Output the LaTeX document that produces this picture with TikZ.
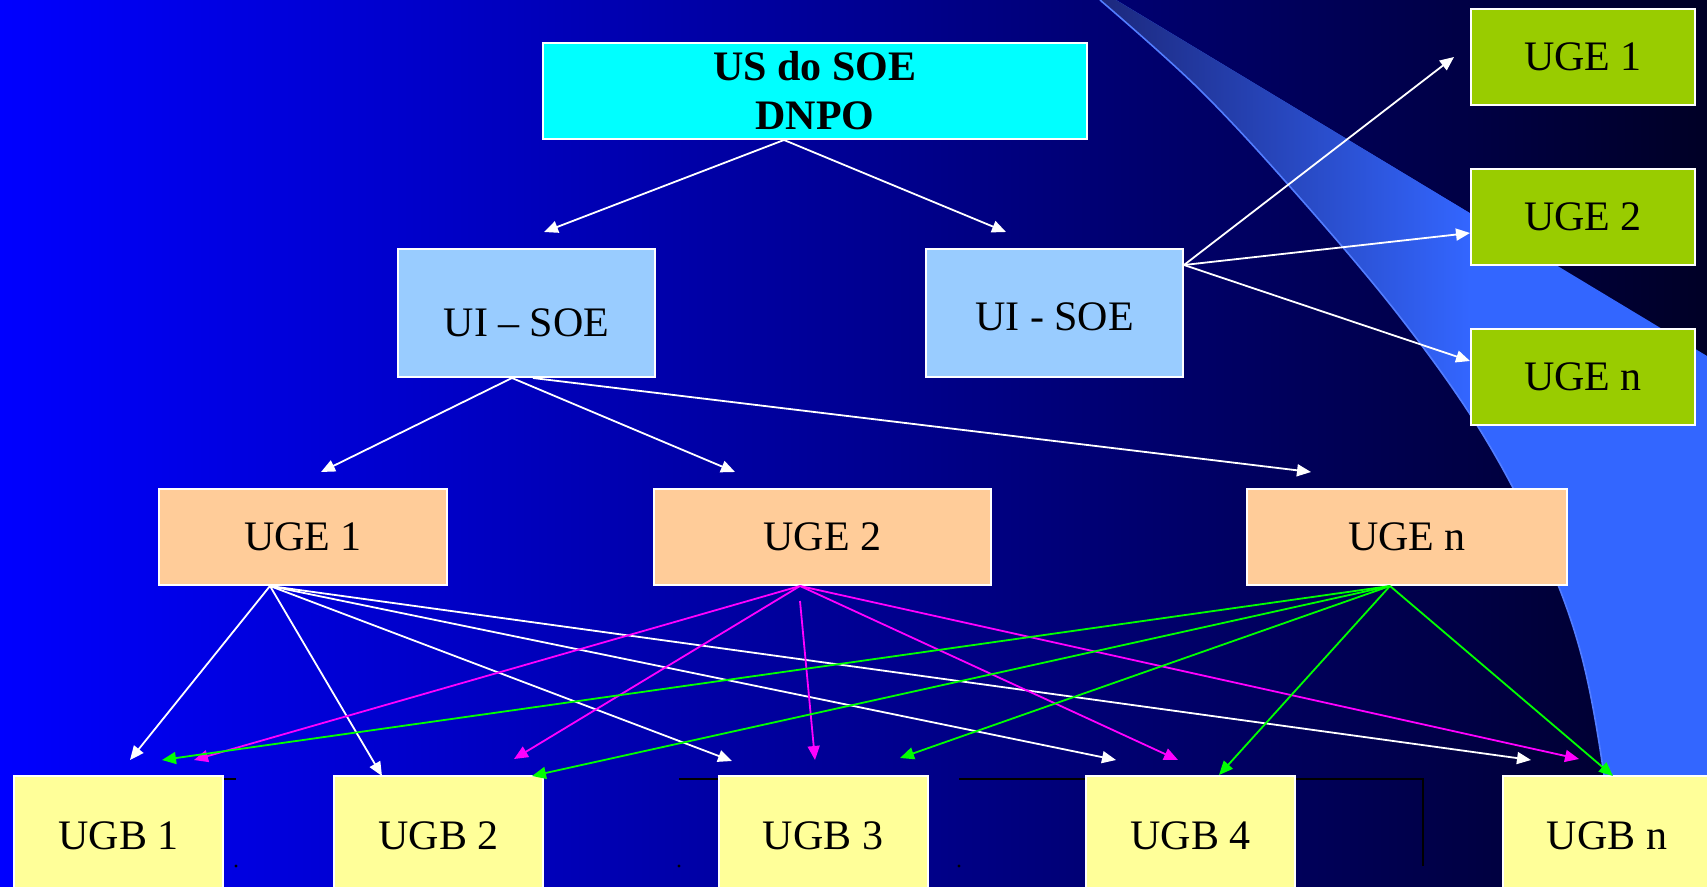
\documentclass[tikz,border=0pt]{standalone}
\usepackage{fontspec}
\setmainfont{Liberation Serif}
\usetikzlibrary{arrows.meta}
\definecolor{bgblue}{RGB}{0,0,255}
\definecolor{bgmid}{RGB}{0,0,176}
\definecolor{bgdark}{RGB}{0,0,38}
\definecolor{swoosh}{RGB}{51,102,255}
\definecolor{swooshtop}{RGB}{28,40,125}
\definecolor{soecyan}{RGB}{0,255,255}
\definecolor{uiblue}{RGB}{153,204,255}
\definecolor{ugegreen}{RGB}{153,204,0}
\definecolor{ugeorange}{RGB}{255,204,153}
\definecolor{ugbyellow}{RGB}{255,255,153}
\definecolor{linkpink}{RGB}{255,0,255}
\definecolor{linkgreen}{RGB}{0,255,0}

\begin{document}
\begin{tikzpicture}[x=0.5pt,y=-0.5pt,
  box/.style={draw=white,line width=1pt,inner sep=0pt,font=\fontsize{21}{24.5}\selectfont},
  link/.style={-{Triangle[length=7pt,width=6pt]},line width=0.9pt}]
  %Background
  \clip (0,0) rectangle (1707,887);
  \shade[left color=bgblue,middle color=bgmid,right color=bgdark] (0,0) rectangle (1707,887);
  \def\swooshpath{plot[smooth,tension=0.6] coordinates {(1100,0) (1200,90) (1300,198) (1400,317)
    (1480,430) (1540,543) (1580,650) (1604,775) (1615,887)}
    -- (1707,887) -- (1707,356) -- (1116,0) -- cycle}
  \fill[swoosh] \swooshpath;
  \begin{scope}
    \clip \swooshpath;
    \shade[left color=swooshtop,right color=swoosh] (1100,0) rectangle (1470,440);
  \end{scope}
  \draw[swoosh!85!white,line width=0.8pt]
    plot[smooth,tension=0.6] coordinates {(1100,0) (1200,90) (1300,198) (1400,317)
    (1480,430) (1540,543) (1580,650) (1604,775) (1615,887)};

  %Table rests
  \draw[black,line width=1pt] (224,779) -- (236,779) (679,779) -- (719,779)
    (959,779) -- (1086,779) (1296,779) -- (1423,779) -- (1423,866);
  \fill[black] (236,866) circle (0.8pt) (679,866) circle (0.8pt) (959,866) circle (0.8pt);

  %Boxes
  \node[box,fill=soecyan,minimum width=272pt,minimum height=48pt,align=center,
    font=\fontsize{21}{24.5}\selectfont\bfseries] (soe) at (815,91) {US do SOE\\DNPO};
  \node[box,fill=uiblue,minimum width=128.5pt,minimum height=64pt,text height=24pt,text depth=0pt]
    (uiL) at (526.5,313) {UI – SOE};
  \node[box,fill=uiblue,minimum width=128.5pt,minimum height=64pt,text height=17.4pt,text depth=0pt]
    (uiR) at (1054.5,313) {UI - SOE};
  \foreach \y/\t [count=\i] in {57/1,217/2,377/n}
    \node[box,fill=ugegreen,minimum width=112pt,minimum height=48pt] (g\i) at (1583,\y) {UGE \t};
  \node[box,fill=ugeorange,minimum width=144pt,minimum height=48pt] (ugeA) at (303,537) {UGE 1};
  \node[box,fill=ugeorange,minimum width=168.5pt,minimum height=48pt] (ugeB) at (822.5,537) {UGE 2};
  \node[box,fill=ugeorange,minimum width=160pt,minimum height=48pt] (ugeN) at (1407,537) {UGE n};
  \foreach \x/\t [count=\i] in {118.5/1,438.5/2,823/3,1190.5/4,1607/n}
    \node[box,fill=ugbyellow,minimum width=104.5pt,minimum height=60pt] (ugb\i) at (\x,836) {UGB \t};

  %Arrow ends
  \coordinate (tuiL) at (544,232);
  \coordinate (tuiR) at (1006,232);
  \coordinate (tg1) at (1454,57);
  \coordinate (tg2) at (1470,233);
  \coordinate (tg3) at (1470,361);
  \coordinate (tugeA) at (321,472);
  \coordinate (tugeB) at (735,472);
  \coordinate (tugeN) at (1311,472);
  \foreach \x/\y [count=\i] in {130/760,382/776,732/761,1116/760,1531/760}
    \coordinate (wA\i) at (\x,\y);
  \foreach \x/\y [count=\i] in {194/760,514/759,815/760,1178/760,1579/759}
    \coordinate (pB\i) at (\x,\y);
  \foreach \x/\y [count=\i] in {162/760,532/776,900/758,1219/775,1613/776}
    \coordinate (gN\i) at (\x,\y);
  \coordinate (pBstart) at (800,601);

  %Arrows
  \draw[link,white] ([xshift=-15.5pt]soe.south) -- (tuiL);
  \draw[link,white] ([xshift=-15.5pt]soe.south) -- (tuiR);
  \foreach \i in {1,2,3}
    \draw[link,white] ([yshift=24pt]uiR.east) -- (tg\i);
  \draw[link,white] ([xshift=-7.25pt]uiL.south) -- (tugeA);
  \draw[link,white] ([xshift=-7.25pt]uiL.south) -- (tugeB);
  \draw[link,white] ([xshift=3.25pt]uiL.south) -- (tugeN);
  \foreach \i in {1,...,5}
    \draw[link,white] ([xshift=-16.5pt]ugeA.south) -- (wA\i);
  \foreach \i in {1,2,4,5}
    \draw[link,linkpink] ([xshift=-11.25pt]ugeB.south) -- (pB\i);
  \draw[link,linkpink] (pBstart) -- (pB3);
  \foreach \i in {1,...,5}
    \draw[link,linkgreen] ([xshift=-8.5pt]ugeN.south) -- (gN\i);
\end{tikzpicture}
\end{document}
